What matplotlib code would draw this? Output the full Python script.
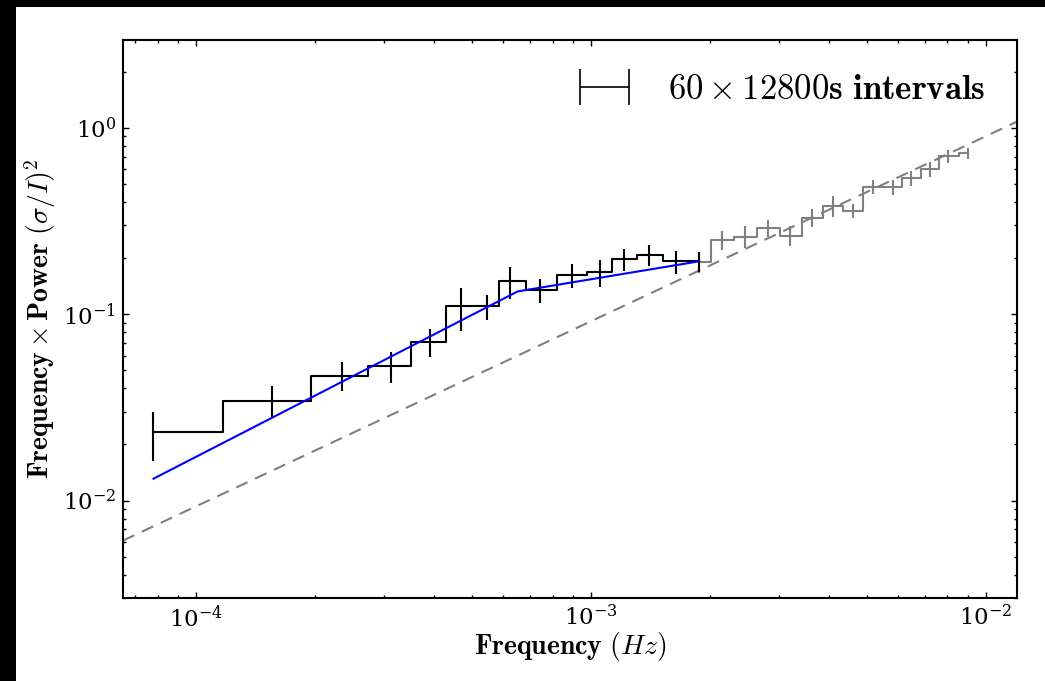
import numpy as np
import matplotlib
matplotlib.use("Agg")
import matplotlib.pyplot as plt
from matplotlib.patches import Rectangle
from matplotlib.legend_handler import HandlerErrorbar

plt.rcParams['mathtext.fontset'] = 'cm'
plt.rcParams['font.family'] = 'serif'
plt.rcParams['axes.formatter.use_mathtext'] = True

# базовая частота: 1 / 12800 s
f0 = 1.0 / 12800.0

# номера гармоник (усреднённые по бинам) и мощность, основной участок
bins_main = [1, 2, 3, 4, 5, 6, 7, 8, 9.5, 11.5, 13.5, 15.5, 18, 21, 24]
power_main = [0.0232, 0.0344, 0.0468, 0.0525, 0.0710, 0.110, 0.110, 0.150, 0.135,
              0.163, 0.168, 0.198, 0.208, 0.192, 0.192]
err_main = [0.0068, 0.0068, 0.0083, 0.010, 0.012, 0.029, 0.017, 0.030, 0.020,
            0.024, 0.028, 0.027, 0.026, 0.027, 0.024]

# высокочастотный участок (серый)
bins_high = [24, 27.5, 31.5, 36, 41, 46.5, 52.5, 59, 66.5, 74.5, 83, 92.5, 103, 115.5]
power_high = [0.191, 0.251, 0.261, 0.290, 0.264, 0.330, 0.382, 0.359, 0.483, 0.481,
              0.537, 0.600, 0.702, 0.731]
err_high = [0.024, 0.029, 0.035, 0.032, 0.033, 0.036, 0.048, 0.032, 0.040, 0.045,
            0.050, 0.056, 0.055, 0.053]

# модель (ломаный степенной закон)
model_f = [7.8125e-5, 6.53e-4, 1.875e-3]
model_p = [0.0131, 0.1325, 0.192]

# уровень пуассоновского шума
noise_f = [6.54e-5, 1.2e-2]
noise_p = [0.0061, 1.08]

freq_main = np.array(bins_main) * f0
freq_high = np.array(bins_high) * f0

fig = plt.figure(figsize=(10.45, 6.81), dpi=100)
ax = fig.add_axes([123 / 1045, 83 / 681, 894 / 1045, 558 / 681])

ax.plot(noise_f, noise_p, color='0.5', linestyle='--', linewidth=1.5, dashes=(6, 4))
ax.step(freq_high, power_high, where='mid', color='0.5', linewidth=1.5)
ax.errorbar(freq_high, power_high, yerr=err_high, fmt='none', ecolor='0.5', elinewidth=1.5)
ax.step(freq_main, power_main, where='mid', color='k', linewidth=1.5)
ax.errorbar(freq_main, power_main, yerr=err_main, fmt='none', ecolor='k', elinewidth=1.5)
ax.plot(model_f, model_p, color='b', linewidth=1.5)

# заглушка для легенды
proxy = ax.errorbar([np.nan], [np.nan], xerr=[1], fmt='none', ecolor='k',
                    elinewidth=1.2, capsize=13, capthick=1.2)
ax.legend([proxy], [r'$60 \times 12800\mathbf{s\ intervals}$'], loc='upper right',
          frameon=False, fontsize=25, handlelength=1.6, handletextpad=1.03,
          borderaxespad=0.52, handler_map={proxy: HandlerErrorbar(xerr_size=0.7)})

ax.set_xscale('log')
ax.set_yscale('log')
ax.set_xlim(6.54e-5, 1.2e-2)
ax.set_ylim(3e-3, 2.96)

ax.tick_params(which='both', direction='in', top=True, right=True, labelsize=16.5)
ax.tick_params(which='major', length=4, width=1, pad=5)
ax.tick_params(which='minor', length=2, width=1)
for s in ax.spines.values():
    s.set_linewidth(1.5)

ax.set_xlabel(r'$\mathbf{Frequency}\ (Hz)$', fontsize=20)
ax.set_ylabel(r'$\mathbf{Frequency} \times \mathbf{Power}\ (\sigma/I)^2$', fontsize=20)
ax.xaxis.set_label_coords(0.5, -0.058)
ax.yaxis.set_label_coords(-0.073, 0.5)

# чёрная рамка по краям исходной картинки
fig.add_artist(Rectangle((0, 1 - 7 / 681), 1, 7 / 681, transform=fig.transFigure,
                         facecolor='black', edgecolor='none'))
fig.add_artist(Rectangle((0, 0), 16 / 1045, 1, transform=fig.transFigure,
                         facecolor='black', edgecolor='none'))

fig.savefig('out.png', dpi=100)
